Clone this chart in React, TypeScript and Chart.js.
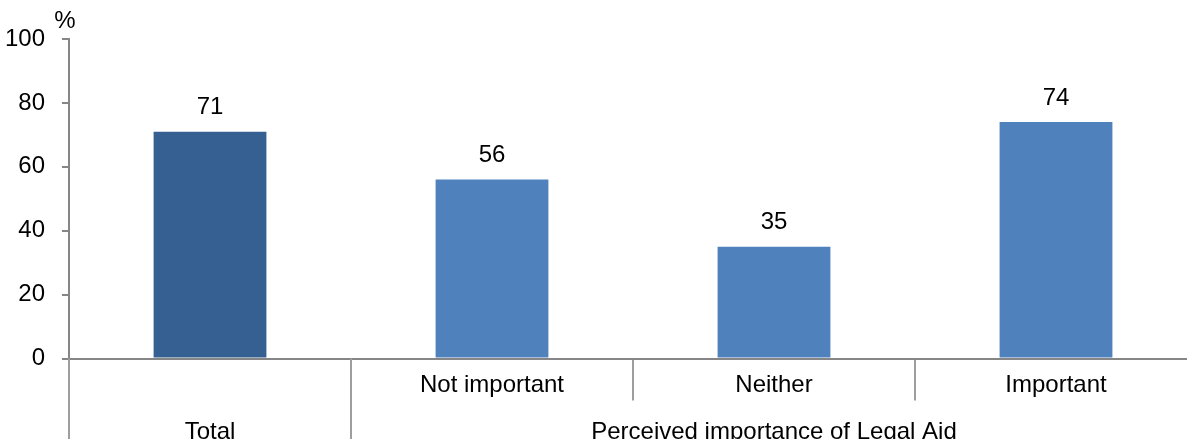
import React, { useEffect, useRef } from "react";
import { Chart, registerables } from "chart.js";

Chart.register(...registerables);

const categories = ["Total", "Not important", "Neither", "Important"];
const tickLabels = ["", "Not important", "Neither", "Important"];
const values = [71, 56, 35, 74];
const barColors = ["#376092", "#4F81BD", "#4F81BD", "#4F81BD"];
const groupLabels = ["Total", "Perceived importance of Legal Aid"];
const groupSpans = [1, 3];
const yTicks = [0, 20, 40, 60, 80, 100];
const yUnit = "%";

const FONT = "'Liberation Sans', Arial, sans-serif";
const FS = 24;

const overlayPlugin = {
  id: "overlay",
  afterDraw(chart: any) {
    const ctx = chart.ctx;
    const area = chart.chartArea;
    const xs = chart.scales.x;
    const meta = chart.getDatasetMeta(0);
    ctx.save();
    ctx.font = `${FS}px ${FONT}`;
    ctx.fillStyle = "#000";
    ctx.textAlign = "center";
    // value labels
    ctx.textBaseline = "middle";
    meta.data.forEach((bar: any, i: number) => {
      ctx.fillText(String(values[i]), bar.x, bar.y - 24);
    });
    // unit label
    ctx.fillText(yUnit, area.left - 4, area.top - 18);
    // group separators and labels
    const half = (xs.getPixelForValue(1) - xs.getPixelForValue(0)) / 2;
    let start = 0;
    ctx.strokeStyle = "#9E9E9E";
    ctx.lineWidth = 2;
    ctx.textBaseline = "alphabetic";
    groupLabels.forEach((g, gi) => {
      const end = start + groupSpans[gi] - 1;
      const x0 = xs.getPixelForValue(start) - half;
      const x1 = xs.getPixelForValue(end) + half;
      ctx.beginPath();
      ctx.moveTo(x0, area.bottom);
      ctx.lineTo(x0, chart.height);
      ctx.stroke();
      ctx.fillText(g, (x0 + x1) / 2, area.bottom + 80);
      start = end + 1;
    });
    ctx.restore();
  },
};

export default function App() {
  const ref = useRef<HTMLCanvasElement>(null);
  useEffect(() => {
    if (!ref.current) return;
    const chart = new Chart(ref.current, {
      type: "bar",
      data: {
        labels: tickLabels,
        datasets: [
          {
            label: categories.join(","),
            data: values,
            backgroundColor: barColors,
            barPercentage: 0.4,
            categoryPercentage: 1,
          },
        ],
      },
      options: {
        animation: false,
        responsive: false,
        maintainAspectRatio: false,
        layout: { padding: { top: 39, right: 3, left: 0, bottom: 0 } },
        plugins: { legend: { display: false }, tooltip: { enabled: false } },
        scales: {
          x: {
            afterFit: (s: any) => {
              s.height = 91.5;
            },
            border: { color: "#868686", width: 2 },
            grid: {
              display: true,
              offset: true,
              drawOnChartArea: false,
              drawTicks: true,
              tickLength: 42,
              color: "#9E9E9E",
              lineWidth: 2,
            },
            ticks: {
              padding: -30,
              color: "#000",
              font: { family: FONT, size: FS },
              maxRotation: 0,
              autoSkip: false,
            },
          },
          y: {
            min: 0,
            max: 100,
            afterFit: (s: any) => {
              s.width = 69;
            },
            afterBuildTicks: (s: any) => {
              s.ticks = yTicks.map((v) => ({ value: v }));
            },
            border: { color: "#868686", width: 2 },
            grid: {
              drawOnChartArea: false,
              drawTicks: true,
              tickLength: 7,
              color: "#868686",
              lineWidth: 2,
            },
            ticks: {
              padding: 17,
              color: "#000",
              font: { family: FONT, size: FS },
            },
          },
        },
      },
      plugins: [overlayPlugin],
    });
    return () => chart.destroy();
  }, []);
  return (
    <div
      style={{
        position: "fixed",
        left: 0,
        top: 0,
        width: 1187,
        height: 439,
        overflow: "hidden",
        background: "#fff",
      }}
    >
      <canvas ref={ref} width={1200} height={450} style={{ display: "block" }} />
    </div>
  );
}
